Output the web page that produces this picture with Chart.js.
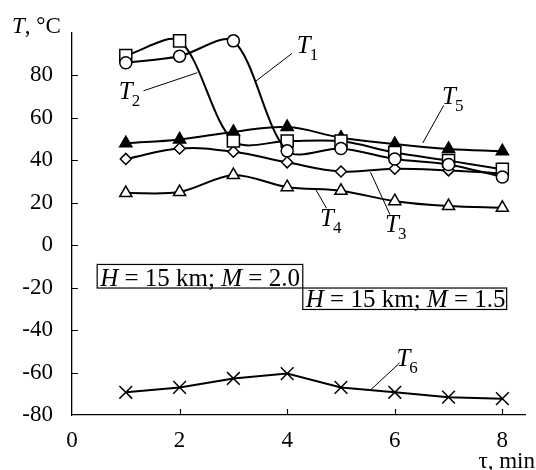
<!DOCTYPE html>
<html>
<head>
<meta charset="utf-8">
<script src="https://cdn.jsdelivr.net/npm/chart.js@4.4.1/dist/chart.umd.min.js"></script>
<style>
  html, body { margin: 0; padding: 0; background: #fff; }
  #wrap { width: 536px; height: 470px; }
</style>
</head>
<body>
<div id="wrap"><canvas id="chart" width="536" height="470"></canvas></div>
<script>
// время, мин
const tau = [1, 2, 3, 4, 5, 6, 7, 8];

// температуры, °C
const t1 = [85.9, 89.0, 96.2, 44.4, 45.5, 40.6, 38.0, 32.1];   // кружки
const t2 = [89.3, 96.2, 49.0, 49.0, 49.0, 43.6, 39.8, 35.7];   // квадраты
const t3 = [40.6, 45.5, 44.0, 39.0, 34.7, 36.0, 35.2, 33.8];   // ромбы
const t4 = [24.5, 25.0, 33.0, 27.3, 25.6, 20.7, 18.4, 17.6];   // пустые треугольники
const t5 = [48.0, 49.8, 53.3, 55.6, 50.6, 47.6, 45.3, 44.2];   // закрашенные треугольники
const t6 = [-69.3, -67.0, -62.8, -60.5, -67.0, -69.3, -71.6, -72.3];

const xTicks = [0, 2, 4, 6, 8];
const yTicks = [-80, -60, -40, -20, 0, 20, 40, 60, 80];

const SERIF = "'Liberation Serif', 'Times New Roman', serif";

const pts = arr => arr.map((v, i) => ({ x: tau[i], y: v }));

function series(values, style, radius, fill, tension) {
  return {
    data: pts(values),
    borderColor: '#000',
    borderWidth: 2,
    tension,
    pointStyle: style,
    pointRadius: radius,
    pointBorderWidth: 1.5,
    pointBorderColor: '#000',
    pointBackgroundColor: fill,
  };
}

// подписи кривых: позиция T, выноска (в единицах осей)
const curveLabels = [
  { sub: '1', at: [4.18, 90.3], lead: [[4.09, 90.3], [3.42, 77.3]] },
  { sub: '2', at: [0.87, 68.7], lead: [[1.33, 72.7], [2.33, 81.2]] },
  { sub: '3', at: [5.82, 6.1], lead: [[5.55, 34.3], [5.91, 14.4]] },
  { sub: '4', at: [4.61, 8.8], lead: [[4.52, 26.7], [4.73, 17.4]] },
  { sub: '5', at: [6.88, 66.4], lead: [[6.91, 65.8], [6.52, 48.1]] },
  { sub: '6', at: [6.03, -57.0], lead: [[5.55, -68.2], [6.09, -55.5]] },
];

// рамки с условиями
const boxes = [
  { x0: 0.468, x1: 4.29, y0: -9.1, y1: -20.2, parts: [['H', 1], [' = 15 km; ', 0], ['M', 1], [' = 2.0', 0]] },
  { x0: 4.29, x1: 8.08, y0: -20.2, y1: -30.3, parts: [['H', 1], [' = 15 km; ', 0], ['M', 1], [' = 1.5', 0]] },
];

function drawParts(ctx, parts, x, y, size) {
  parts.forEach(([txt, it]) => {
    ctx.font = (it ? 'italic ' : '') + size + 'px ' + SERIF;
    ctx.fillText(txt, x, y);
    x += ctx.measureText(txt).width;
  });
}

const decor = {
  id: 'decor',
  afterDraw(chart) {
    const { ctx, chartArea: a, scales: { x, y } } = chart;
    ctx.save();
    ctx.strokeStyle = '#000';
    ctx.fillStyle = '#000';

    // внутренние засечки
    ctx.lineWidth = 1.2;
    ctx.beginPath();
    yTicks.forEach(v => {
      if (v === -80) return;
      const py = Math.round(y.getPixelForValue(v)) + 0.5;
      ctx.moveTo(a.left, py);
      ctx.lineTo(a.left + 6, py);
    });
    xTicks.forEach(v => {
      if (v === 0) return;
      const px = Math.round(x.getPixelForValue(v)) + 0.5;
      ctx.moveTo(px, a.bottom);
      ctx.lineTo(px, a.bottom - 6);
    });
    ctx.stroke();

    // подписи осей
    ctx.textBaseline = 'alphabetic';
    ctx.textAlign = 'left';
    drawParts(ctx, [['T', 1], [', °C', 0]], a.left - 60, 33, 23);
    ctx.font = '23px ' + SERIF;
    ctx.textAlign = 'right';
    ctx.fillText('τ, min', chart.width - 1, 468);
    ctx.textAlign = 'left';

    // подписи кривых
    curveLabels.forEach(l => {
      ctx.lineWidth = 1;
      ctx.beginPath();
      ctx.moveTo(x.getPixelForValue(l.lead[0][0]), y.getPixelForValue(l.lead[0][1]));
      ctx.lineTo(x.getPixelForValue(l.lead[1][0]), y.getPixelForValue(l.lead[1][1]));
      ctx.stroke();
      const px = x.getPixelForValue(l.at[0]);
      const py = y.getPixelForValue(l.at[1]);
      ctx.font = 'italic 25px ' + SERIF;
      ctx.fillText('T', px, py);
      const w = ctx.measureText('T').width;
      ctx.font = '17px ' + SERIF;
      ctx.fillText(l.sub, px + w - 1, py + 7);
    });

    // рамки
    boxes.forEach(b => {
      const l = x.getPixelForValue(b.x0), r = x.getPixelForValue(b.x1);
      const t = y.getPixelForValue(b.y0), bt = y.getPixelForValue(b.y1);
      ctx.fillStyle = '#fff';
      ctx.fillRect(l, t, r - l, bt - t);
      ctx.fillStyle = '#000';
      ctx.lineWidth = 1.2;
      ctx.strokeRect(l, t, r - l, bt - t);
      drawParts(ctx, b.parts, l + 3, bt - 2.5, 25);
    });
    ctx.restore();
  },
};

new Chart(document.getElementById('chart'), {
  type: 'line',
  data: {
    datasets: [
      series(t1, 'circle', 6, '#fff', 0.3),
      series(t2, 'rect', 8.5, '#fff', 0.3),
      series(t5, 'triangle', 7, '#000', 0.4),
      series(t3, 'rectRot', 5.5, '#fff', 0.4),
      series(t4, 'triangle', 7, '#fff', 0.3),
      series(t6, 'crossRot', 9, '#fff', 0),
    ],
  },
  options: {
    responsive: false,
    animation: false,
    layout: { padding: { top: 24, right: 1, left: 0, bottom: 0 } },
    plugins: { legend: { display: false }, tooltip: { enabled: false } },
    scales: {
      x: {
        type: 'linear',
        min: 0,
        max: 8.43,
        afterBuildTicks: s => { s.ticks = xTicks.map(v => ({ value: v })); },
        afterFit: s => { s.height = 55; },
        grid: { display: false, drawTicks: false },
        border: { color: '#000', width: 1.3 },
        ticks: { color: '#000', padding: 12, maxRotation: 0, font: { family: SERIF, size: 23 } },
      },
      y: {
        min: -80,
        max: 100,
        afterBuildTicks: s => { s.ticks = yTicks.map(v => ({ value: v })); },
        afterFit: s => { s.width = 72; },
        grid: { display: false, drawTicks: false },
        border: { color: '#000', width: 1.3 },
        ticks: { color: '#000', padding: 19, font: { family: SERIF, size: 23 } },
      },
    },
  },
  plugins: [decor],
});
</script>
</body>
</html>
